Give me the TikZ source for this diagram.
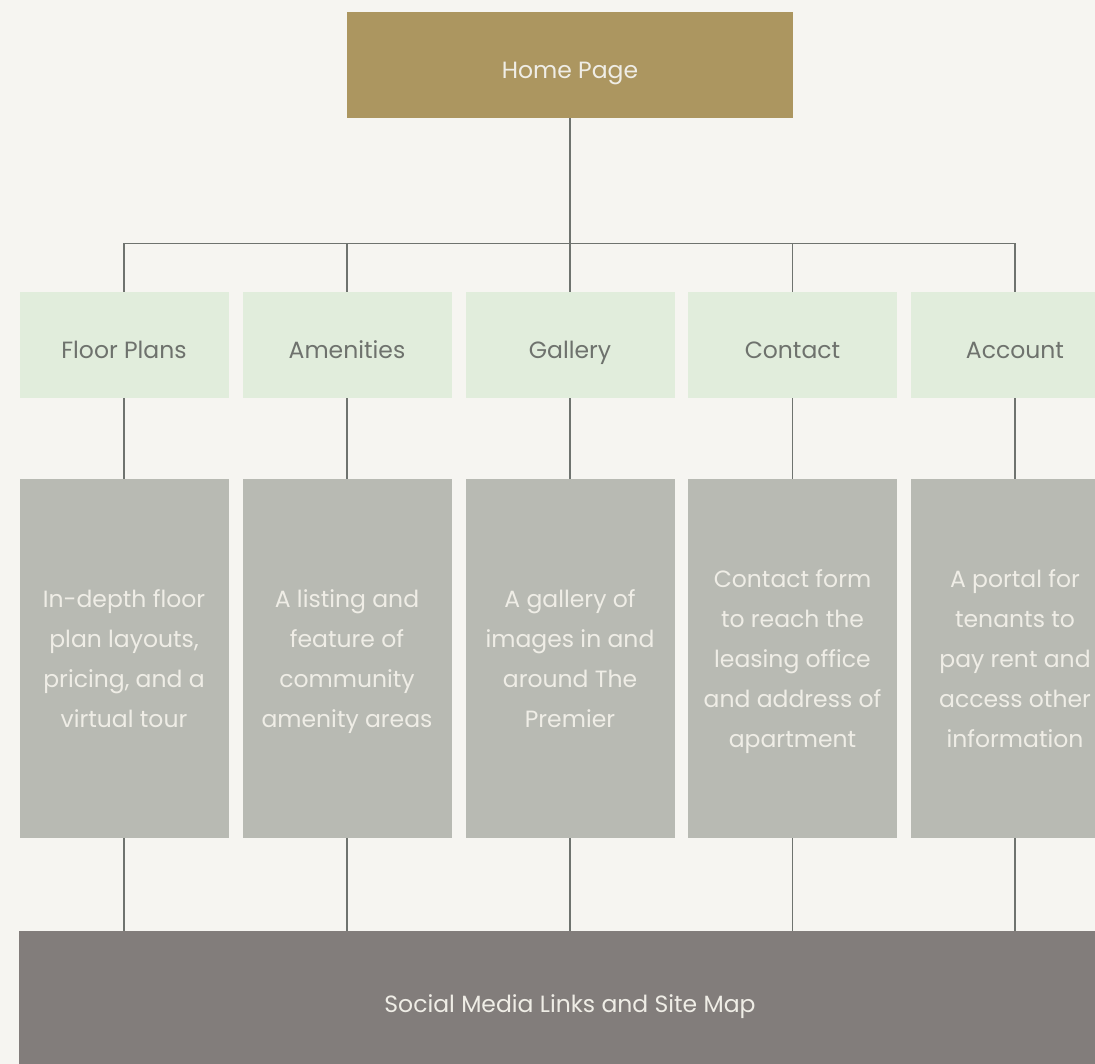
\documentclass[tikz,border=0pt]{standalone}
\usepackage{fontspec}
\setmainfont{Poppins}
\usepackage{tikz}
\usetikzlibrary{positioning, calc}

\definecolor{paper}{HTML}{F6F5F1}
\definecolor{homegold}{HTML}{AC9660}
\definecolor{pagegreen}{HTML}{E1EDDC}
\definecolor{descgray}{HTML}{B8BAB3}
\definecolor{footgray}{HTML}{827D7B}
\definecolor{linkgray}{HTML}{6F736F}
\definecolor{darktext}{HTML}{6E726D}
\definecolor{lighttext}{HTML}{EFEDE6}

\begin{document}
\begin{tikzpicture}[x=1pt, y=-1pt,
        home/.style={rectangle, fill=homegold, text=lighttext, minimum width=446pt, minimum height=106pt, inner sep=0pt, text height=29pt, text depth=1pt, font=\fontsize{23.5}{40}\selectfont},
        page/.style={rectangle, fill=pagegreen, text=darktext, minimum width=209pt, minimum height=106pt, inner sep=0pt, text height=29pt, text depth=1pt, font=\fontsize{23.5}{40}\selectfont},
        desc/.style={rectangle, fill=descgray, text=lighttext, minimum width=209pt, minimum height=359pt, inner sep=0pt, align=center, text depth=-2pt, font=\fontsize{23.5}{40}\selectfont},
        foot/.style={rectangle, fill=footgray, text=lighttext, minimum width=1102pt, minimum height=144pt, inner sep=0pt, text height=20pt, text depth=2pt, font=\fontsize{23.5}{40}\selectfont},
        link/.style={draw=linkgray, line width=1.3pt}
    ]
        \fill[paper] (0,0) rectangle (1095,1064);
        \clip (0,0) rectangle (1095,1064);

        \node[home] (home) at (570,65) {Home Page};

        \node[page] (floor) at (124,345) {Floor Plans};
        \node[page] (amen) at (347,345) {Amenities};
        \node[page] (gallery) at (570,345) {Gallery};
        \node[page] (contact) at (792.5,345) {Contact};
        \node[page] (account) at (1015,345) {Account};

        \node[desc] (floordesc) at (124,658.5) {In-depth floor\\plan layouts,\\pricing, and a\\virtual tour};
        \node[desc] (amendesc) at (347,658.5) {A listing and\\feature of\\community\\amenity areas};
        \node[desc] (gallerydesc) at (570,658.5) {A gallery of\\images in and\\around The\\Premier};
        \node[desc] (contactdesc) at (792.5,658.5) {Contact form\\to reach the\\leasing office\\and address of\\apartment};
        \node[desc] (accountdesc) at (1015,658.5) {A portal for\\tenants to\\pay rent and\\access other\\information};

        \node[foot] (social) at (570,1003) {Social Media Links and Site Map};

        % tree from the home page
        \draw[link] (home.south) -- (gallery.north);
        \draw[link] (floor.north) -- ++(0,-48) -| (account.north);
        \draw[link] (amen.north) -- ++(0,-48);
        \draw[link] (contact.north) -- ++(0,-48);

        % pages to descriptions
        \draw[link] (floor) -- (floordesc);
        \draw[link] (amen) -- (amendesc);
        \draw[link] (gallery) -- (gallerydesc);
        \draw[link] (contact) -- (contactdesc);
        \draw[link] (account) -- (accountdesc);

        % descriptions to footer
        \draw[link] (floordesc.south) -- (floordesc.south |- social.north);
        \draw[link] (amendesc.south) -- (amendesc.south |- social.north);
        \draw[link] (gallerydesc.south) -- (gallerydesc.south |- social.north);
        \draw[link] (contactdesc.south) -- (contactdesc.south |- social.north);
        \draw[link] (accountdesc.south) -- (accountdesc.south |- social.north);
    \end{tikzpicture}
\end{document}
